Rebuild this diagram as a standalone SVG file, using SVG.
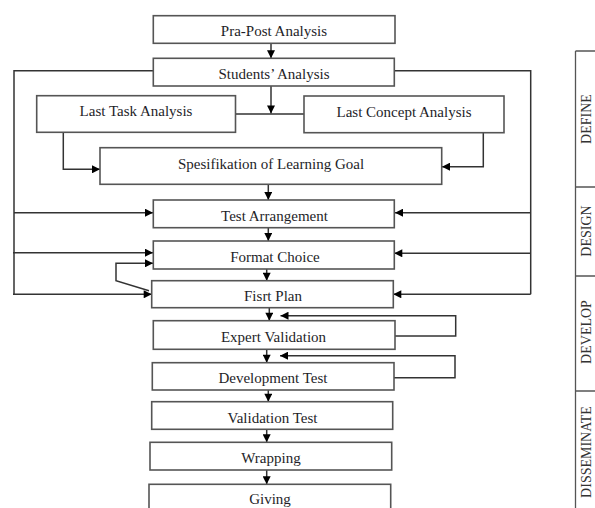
<svg xmlns="http://www.w3.org/2000/svg" width="595" height="508" viewBox="0 0 595 508">
<defs>
<marker id="arr" viewBox="0 0 10 10" refX="10" refY="5" markerWidth="9" markerHeight="8" markerUnits="userSpaceOnUse" orient="auto">
<path d="M0,0 L10,5 L0,10 Z" fill="#000"/>
</marker>
<style>
.box{fill:#fff;stroke:#555;stroke-width:1.6}
.t{font-family:"Liberation Serif","Times New Roman",serif;font-size:15px;fill:#1e1e28;text-anchor:middle}
.side{font-family:"Liberation Serif","Times New Roman",serif;font-size:14px;fill:#333;text-anchor:middle}
.c{fill:none;stroke:#333;stroke-width:1.5}
.a{fill:none;stroke:#333;stroke-width:1.5;marker-end:url(#arr)}
.pl{fill:none;stroke:#555;stroke-width:1.3}
</style>
</defs>
<rect width="595" height="508" fill="#fff"/>

<g id="connectors">
<path class="a" d="M271,43.3 V58.3"/>
<path class="a" d="M271,86 V113.5"/>
<path class="c" d="M235.5,114 H304"/>
<path class="a" d="M63.3,132.3 V169.3 H100"/>
<path class="a" d="M483.3,132.7 V166.7 H442"/>
<path class="a" d="M268.3,184.3 V200"/>
<path class="a" d="M268.3,227.7 V241"/>
<path class="a" d="M266.7,269 V280.7"/>
<path class="a" d="M269.3,307.7 V320.7"/>
<path class="a" d="M266.7,349.3 V362.7"/>
<path class="a" d="M268.3,390 V401.7"/>
<path class="a" d="M266.7,429.3 V442.3"/>
<path class="a" d="M266.7,470 V484.3"/>
<path class="c" d="M153,70.7 H14 V294.3"/>
<path class="a" d="M14,212.7 H153"/>
<path class="a" d="M13,252.7 H153"/>
<path class="a" d="M13,294.3 H151.7"/>
<path class="c" d="M395,70.7 H530.7 V294.3"/>
<path class="a" d="M530.7,212.7 H395"/>
<path class="a" d="M530.7,253.3 H394.3"/>
<path class="a" d="M530.7,294.3 H393.3"/>
<path class="a" d="M149,290.7 L116,280.7 V263.3 H153"/>
<path class="a" d="M395,336 H455.7 V315.7 H280.5"/>
<path class="a" d="M394,377.7 H455 V355.7 H280"/>
</g>

<g id="n-prapost"><rect class="box" x="153.3" y="15.7" width="241.7" height="27.6"/><text class="t" x="274" y="36">Pra-Post Analysis</text></g>
<g id="n-students"><rect class="box" x="153.3" y="58.3" width="241" height="27.7"/><text class="t" x="274" y="78.5">Students’ Analysis</text></g>
<g id="n-lasttask"><rect class="box" x="36.7" y="95.7" width="198.8" height="36.6"/><text class="t" x="136" y="115.5">Last Task Analysis</text></g>
<g id="n-lastconcept"><rect class="box" x="304" y="96" width="200" height="36.7"/><text class="t" x="404" y="116.5">Last Concept Analysis</text></g>
<g id="n-spesifikation"><rect class="box" x="100" y="147.7" width="341.7" height="36.6"/><text class="t" x="271" y="169">Spesifikation of Learning Goal</text></g>
<g id="n-test"><rect class="box" x="153.3" y="200" width="241" height="27.7"/><text class="t" x="274.5" y="220.5">Test Arrangement</text></g>
<g id="n-format"><rect class="box" x="153.3" y="241" width="241" height="28"/><text class="t" x="275" y="261.5">Format Choice</text></g>
<g id="n-firstplan"><rect class="box" x="151.7" y="280.7" width="241.6" height="27"/><text class="t" x="273" y="301">Fisrt Plan</text></g>
<g id="n-expert"><rect class="box" x="153.3" y="320.7" width="241.7" height="28.6"/><text class="t" x="273.5" y="341.5">Expert Validation</text></g>
<g id="n-development"><rect class="box" x="152.3" y="362.7" width="241.7" height="27.3"/><text class="t" x="273" y="383">Development Test</text></g>
<g id="n-validation"><rect class="box" x="151.7" y="401.7" width="241" height="27.6"/><text class="t" x="272.5" y="422.5">Validation Test</text></g>
<g id="n-wrapping"><rect class="box" x="150" y="442.3" width="241.7" height="27.7"/><text class="t" x="271" y="463">Wrapping</text></g>
<g id="n-giving"><rect class="box" x="149" y="484.3" width="241.7" height="30"/><text class="t" x="270" y="504">Giving</text></g>

<g id="phases">
<path class="pl" d="M575.5,51 V508 M575.5,51 H595 M575.5,187 H595 M575.5,276 H595 M575.5,391 H595"/>
<text class="side" x="591" y="119" transform="rotate(-90 591 119)">DEFINE</text>
<text class="side" x="591" y="231" transform="rotate(-90 591 231)">DESIGN</text>
<text class="side" x="591" y="332" transform="rotate(-90 591 332)">DEVELOP</text>
<text class="side" x="591" y="452" transform="rotate(-90 591 452)">DISSEMINATE</text>
</g>
</svg>
